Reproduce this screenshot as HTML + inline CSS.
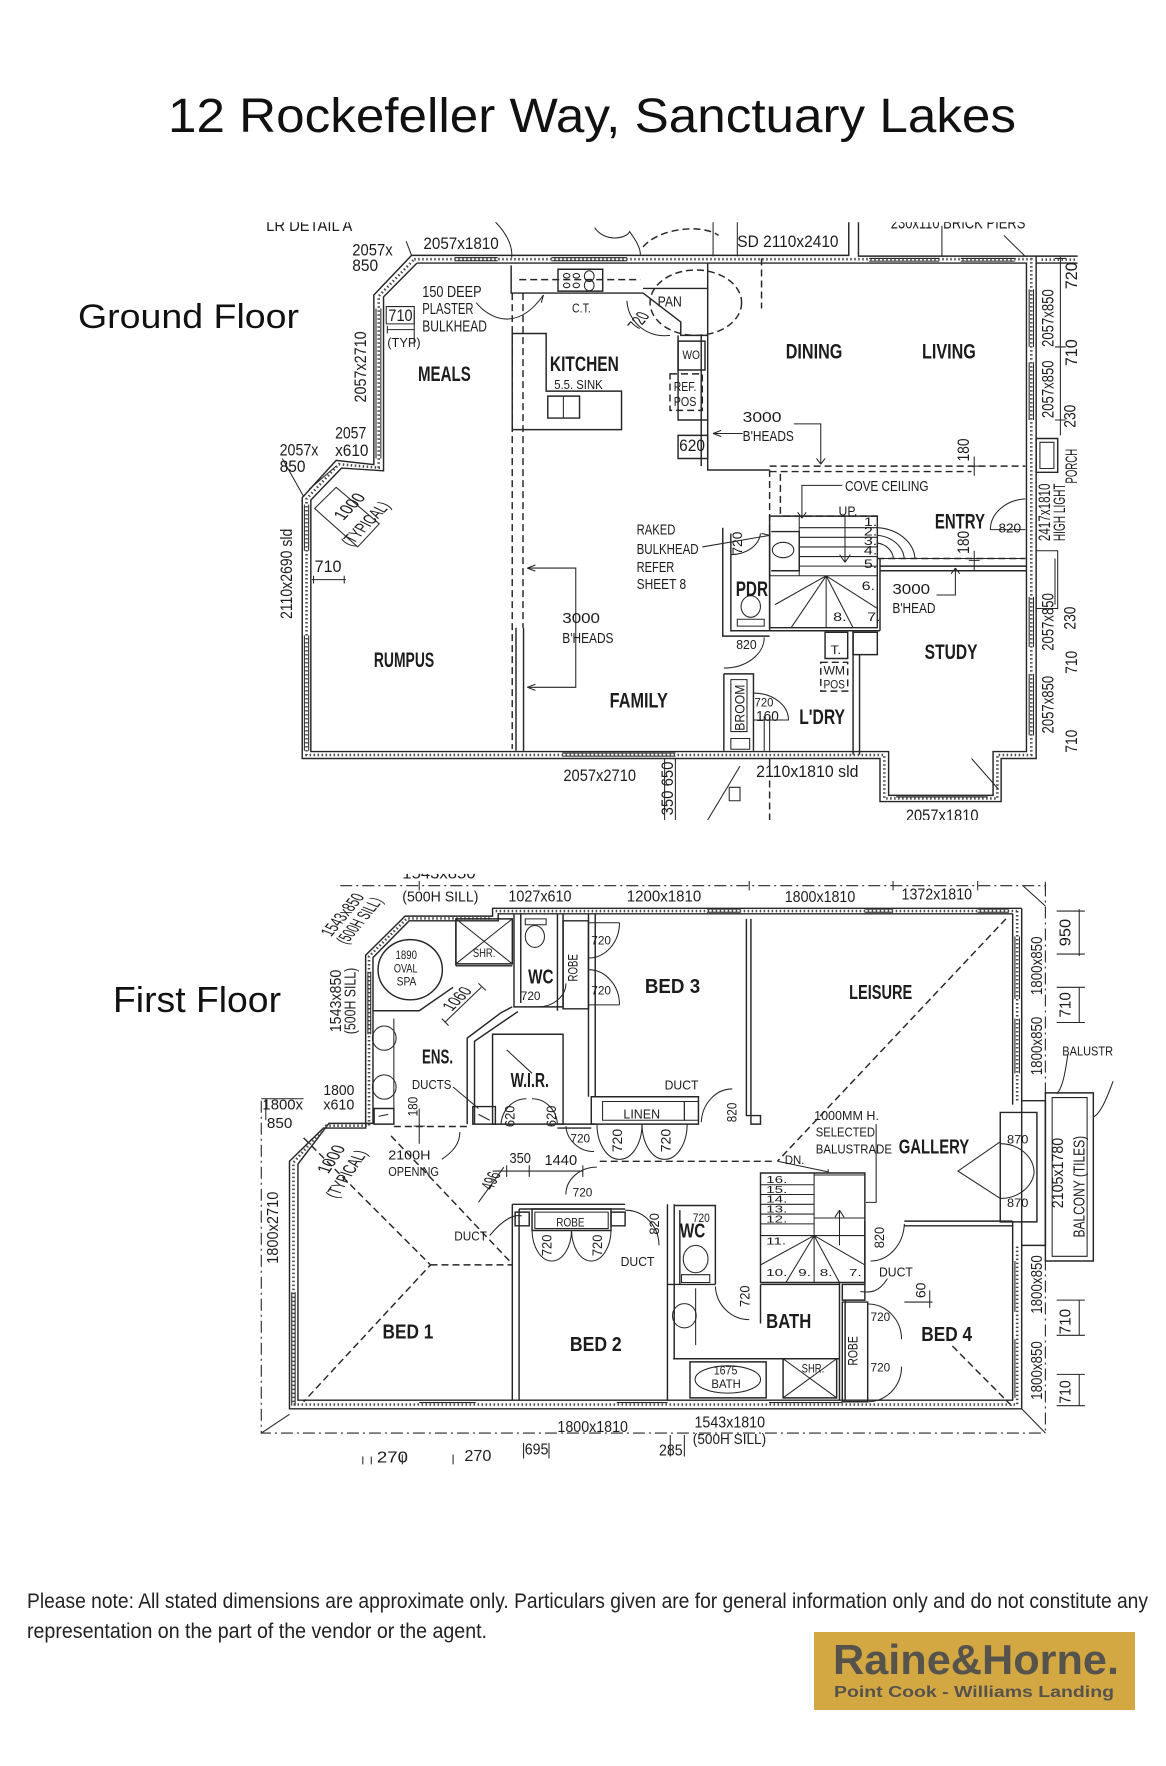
<!DOCTYPE html>
<html><head><meta charset="utf-8"><style>
html,body{margin:0;padding:0;background:#fff;}
svg{display:block;}
.plan path,.plan rect,.plan line,.plan circle,.plan ellipse,.plan polyline{vector-effect:non-scaling-stroke;fill:none;stroke:#262626;stroke-width:1.45;}
.plan .th{stroke-width:1.05;}
.plan .dsh{stroke-dasharray:7 4;}
.plan .dd{stroke-dasharray:12 4 2 4;stroke-width:1.1;}
.plan .hat{stroke-dasharray:1.5 2.5;stroke-width:2.6;stroke:#4a4a4a;}
.plan text{font-family:"Liberation Sans Narrow","Liberation Sans",sans-serif;fill:#1c1c1c;stroke:none;}
.plan .rm text{font-weight:bold;}
.v{text-anchor:middle;dominant-baseline:central;}
</style></head><body>
<svg width="1166" height="1766" viewBox="0 0 1166 1766" xmlns="http://www.w3.org/2000/svg">
<defs>
<clipPath id="cg"><rect x="-250" y="6" width="1787" height="1554"/></clipPath>
<clipPath id="cf"><rect x="-250" y="10" width="1800" height="1550"/></clipPath>
</defs>
<rect width="1166" height="1766" fill="#fff"/>

<!-- headings -->
<text x="168" y="132" font-size="48" textLength="848" lengthAdjust="spacingAndGlyphs" font-family="Liberation Sans, sans-serif" fill="#111">12 Rockefeller Way, Sanctuary Lakes</text>
<text x="78" y="328" font-size="34" textLength="221" lengthAdjust="spacingAndGlyphs" font-family="Liberation Sans, sans-serif" fill="#111">Ground Floor</text>
<text x="113" y="1012" font-size="36" textLength="168" lengthAdjust="spacingAndGlyphs" font-family="Liberation Sans, sans-serif" fill="#111">First Floor</text>

<!-- note -->
<text x="27" y="1608" font-size="21" textLength="1121" lengthAdjust="spacingAndGlyphs" font-family="Liberation Sans, sans-serif" fill="#222">Please note: All stated dimensions are approximate only. Particulars given are for general information only and do not constitute any</text>
<text x="27" y="1638" font-size="21" textLength="460" lengthAdjust="spacingAndGlyphs" font-family="Liberation Sans, sans-serif" fill="#222">representation on the part of the vendor or the agent.</text>

<!-- logo -->
<rect x="814" y="1632" width="321" height="78" fill="#d3a843"/>
<text x="833" y="1674" font-size="42" font-weight="bold" textLength="286" lengthAdjust="spacingAndGlyphs" font-family="Liberation Sans, sans-serif" fill="#56524c">Raine&amp;Horne.</text>
<text x="834" y="1697" font-size="16" font-weight="bold" textLength="280" lengthAdjust="spacingAndGlyphs" font-family="Liberation Sans, sans-serif" fill="#56524c">Point Cook - Williams Landing</text>

<!-- ================= GROUND FLOOR ================= -->
<g class="plan" transform="translate(250,220) scale(0.53846,0.38462)" clip-path="url(#cg)">
<path d="M300,92 H1112 V0 M1130,0 V94 H1540 M1460,94 V1400 H1395 V1512 H1170 V1400 H97 V722 L160,625 L230,636 V195 L300,92"/>
<path d="M310,112 H1442 V1382 H1380 V1496 H1186 V1382 H113 V728 L170,645 L248,652 V200 L310,112 M1460,112 H1540"/>
<path class="hat" d="M305,102 H1451 V1391 H1388 V1504 H1178 V1391 H105 V725 L165,635 L239,644 V198 L305,102 M1470,103 H1540"/>
<path class="th" d="M380,98 H460 M380,106 H460 M560,98 H700 M560,106 H700 M1150,100 H1280 M1150,107 H1280 M1320,100 H1420 M1320,107 H1420"/>
<path class="th" d="M1447,180 V330 M1455,180 V330 M1447,370 V520 M1455,370 V520 M1447,980 V1110 M1455,980 V1110 M1447,1180 V1340 M1455,1180 V1340 M101,740 V860 M109,740 V860 M101,1080 V1380 M109,1080 V1380 M234,230 V620 M243,230 V620 M580,1386 H790 M580,1394 H790 M1200,1500 H1370"/>
<path class="th" d="M290,55 L300,92 M455,4 C480,40 488,70 486,98 M640,20 C660,60 700,48 705,30 C715,50 725,70 725,90 M860,0 V95 M905,0 V95 M1285,15 V95 M1400,40 L1440,95 M1505,96 V560 M1495,100 H1515 M1495,330 H1515 M1495,520 H1515"/>
<path class="dsh" d="M950,100 V230"/>
<circle class="dsh" cx="828" cy="215" r="85"/>
<path class="dsh" d="M730,70 C760,20 840,10 870,40"/>
<path class="dsh" d="M487,190 V1375 M507,190 V1060 M500,155 H725 M965,640 H1440 M965,654 H1340 M965,650 V800 M985,660 V770 M1165,880 H1440 M990,770 H1165"/>
<path d="M494,1060 V1380 M508,1060 V1380"/>
<path d="M485,118 V190 H730 M730,190 L800,265 V300 H850 M730,178 H850 M850,112 V650 H965 M838,300 V640 M487,295 H550 V445 H690 V545 H487 Z M795,300 V520 H850"/>
<rect x="572" y="128" width="83" height="57"/>
<circle class="th" cx="588" cy="145" r="6"/><circle class="th" cx="588" cy="170" r="6"/><circle class="th" cx="606" cy="145" r="6"/><circle class="th" cx="606" cy="170" r="6"/>
<ellipse class="th" cx="630" cy="146" rx="9" ry="14"/><ellipse class="th" cx="630" cy="170" rx="9" ry="14"/>
<rect x="553" y="458" width="59" height="57"/><path class="th" d="M582,458 V515"/>
<path class="th" d="M700,210 A70 95 0 0 0 780,300"/>
<rect x="795" y="315" width="50" height="75"/>
<rect class="dsh" x="780" y="400" width="60" height="95"/>
<rect x="795" y="560" width="55" height="60"/>
<path class="th" d="M420,215 C450,265 500,285 545,195 M860,555 H915 M1010,530 H1060 V635 M1100,690 H1025 V775 M840,850 L965,820 M515,905 H605 V1215 H515 M1275,975 H1310 V905"/>
<path class="th" d="M860,555 l15,-8 M860,555 l15,8 M1060,635 l-8,-15 M1060,635 l8,-15 M1025,775 l-8,-15 M1025,775 l8,-15 M515,905 l15,-8 M515,905 l15,8 M515,1215 l15,-8 M515,1215 l15,8 M1310,905 l-8,15 M1310,905 l8,15 M965,820 l-15,-5 M545,195 l-4,20"/>
<rect x="965" y="770" width="200" height="290"/>
<path class="th" d="M1020,770 V925 M1020,800 H1165 M1020,825 H1165 M1020,850 H1165 M1020,875 H1165 M1020,900 H1165 M965,925 H1165 M1070,925 L975,1000 M1070,925 L1005,1060 M1070,925 L1070,1060 M1070,925 L1120,1060 M1070,925 L1165,1010 M1105,770 V890 M1105,890 l-10,-20 M1105,890 l10,-20"/>
<path class="th" d="M1165,800 A75 85 0 0 1 1235,880 M1165,820 A55 65 0 0 1 1215,880 M1165,840 A35 45 0 0 1 1195,880 M1165,880 H1440"/>
<path d="M878,800 V1082 H965 M893,815 V1068 H965 M965,800 V1068 M968,810 H1020 V912 H968"/>
<path class="th" d="M893,870 A55 60 0 0 0 948,815"/>
<circle class="th" cx="990" cy="858" r="20"/>
<ellipse class="th" cx="930" cy="1005" rx="18" ry="28"/><rect class="th" x="905" y="1038" width="50" height="18"/>
<path class="th" d="M955,1085 A75 80 0 0 1 880,1165"/>
<path d="M880,1180 V1380 M880,1180 H935 V1345 M935,1345 V1380 M965,1068 H1170 M1120,1068 V1390 M1132,1130 V1390 M1170,900 H1442 M1170,912 H1442 M1170,880 V1068"/>
<rect class="th" x="893" y="1195" width="30" height="135"/>
<rect class="th" x="893" y="1348" width="35" height="28"/>
<path class="th" d="M935,1230 A65 70 0 0 1 1000,1300 H935 M955,1290 V1380 M965,1290 V1380"/>
<rect x="1068" y="1072" width="42" height="68"/>
<rect class="dsh" x="1060" y="1150" width="50" height="75"/>
<rect x="1120" y="1072" width="45" height="58"/>
<path class="th" d="M1440,725 A70 80 0 0 0 1375,805 H1440 M1345,615 V665 M1335,640 H1355 M1345,860 V910 M1335,885 H1355"/>
<rect x="1460" y="568" width="40" height="88"/><rect class="th" x="1467" y="578" width="26" height="68"/>
<path class="th" d="M1460,860 H1500 V1010 H1460 M1495,880 V1000"/>
<path class="th" d="M115,935 H178 M118,925 V945 M175,925 V945 M255,285 H305 M255,275 V295 M305,235 V330 M110,700 L160,640 M60,620 L100,720"/>
<rect class="th" x="253" y="225" width="52" height="45"/>
<path class="th" d="M120,750 L160,695 L240,790 L200,850 Z"/>
<path class="th" d="M770,1400 V1560 M790,1400 V1560 M910,1420 L850,1560 M1340,1400 L1390,1480"/>
<rect class="th" x="890" y="1475" width="20" height="35"/>
<path class="dsh" d="M965,1400 V1560"/>
<g font-size="42">
<text x="30" y="28" textLength="160" lengthAdjust="spacingAndGlyphs">LR DETAIL A</text>
<text x="190" y="92" textLength="75" lengthAdjust="spacingAndGlyphs">2057x</text>
<text x="190" y="132" textLength="48" lengthAdjust="spacingAndGlyphs">850</text>
<text x="322" y="75" textLength="140" lengthAdjust="spacingAndGlyphs">2057x1810</text>
<text x="905" y="70" textLength="188" lengthAdjust="spacingAndGlyphs">SD 2110x2410</text>
<text x="1190" y="22" textLength="250" lengthAdjust="spacingAndGlyphs">230x110 BRICK PIERS</text>
<text x="257" y="262" textLength="45" lengthAdjust="spacingAndGlyphs">710</text>
<text x="797" y="600" textLength="48" lengthAdjust="spacingAndGlyphs">620</text>
<text x="582" y="1458" textLength="135" lengthAdjust="spacingAndGlyphs">2057x2710</text>
<text x="940" y="1448" textLength="190" lengthAdjust="spacingAndGlyphs">2110x1810 sld</text>
<text x="1218" y="1562" textLength="135" lengthAdjust="spacingAndGlyphs">2057x1810</text>
<text x="120" y="915" textLength="50" lengthAdjust="spacingAndGlyphs">710</text>
<text x="158" y="568" textLength="58" lengthAdjust="spacingAndGlyphs">2057</text>
<text x="158" y="613" textLength="62" lengthAdjust="spacingAndGlyphs">x610</text>
<text x="55" y="612" textLength="72" lengthAdjust="spacingAndGlyphs">2057x</text>
<text x="55" y="655" textLength="48" lengthAdjust="spacingAndGlyphs">850</text>
</g>
<g font-size="40">
<text x="320" y="200" textLength="110" lengthAdjust="spacingAndGlyphs">150 DEEP</text>
<text x="320" y="245" textLength="95" lengthAdjust="spacingAndGlyphs">PLASTER</text>
<text x="320" y="290" textLength="120" lengthAdjust="spacingAndGlyphs">BULKHEAD</text>
</g>
<g font-size="38">
<text x="915" y="525" textLength="72" lengthAdjust="spacingAndGlyphs">3000</text>
<text x="915" y="575" textLength="95" lengthAdjust="spacingAndGlyphs">B'HEADS</text>
<text x="1105" y="705" textLength="155" lengthAdjust="spacingAndGlyphs">COVE CEILING</text>
<text x="718" y="818" textLength="72" lengthAdjust="spacingAndGlyphs">RAKED</text>
<text x="718" y="868" textLength="115" lengthAdjust="spacingAndGlyphs">BULKHEAD</text>
<text x="718" y="915" textLength="70" lengthAdjust="spacingAndGlyphs">REFER</text>
<text x="718" y="960" textLength="92" lengthAdjust="spacingAndGlyphs">SHEET 8</text>
<text x="1193" y="972" textLength="70" lengthAdjust="spacingAndGlyphs">3000</text>
<text x="1193" y="1022" textLength="80" lengthAdjust="spacingAndGlyphs">B'HEAD</text>
<text x="580" y="1048" textLength="70" lengthAdjust="spacingAndGlyphs">3000</text>
<text x="580" y="1100" textLength="95" lengthAdjust="spacingAndGlyphs">B'HEADS</text>
<text x="757" y="225" textLength="45" lengthAdjust="spacingAndGlyphs">PAN</text>
<text x="940" y="1302" textLength="42" lengthAdjust="spacingAndGlyphs">160</text>
</g>
<g font-size="34">
<text x="255" y="330" textLength="62" lengthAdjust="spacingAndGlyphs">(TYP)</text>
<text x="565" y="440" textLength="90" lengthAdjust="spacingAndGlyphs">5.5. SINK</text>
<text x="598" y="240" textLength="35" lengthAdjust="spacingAndGlyphs">C.T.</text>
<text x="787" y="445" textLength="42" lengthAdjust="spacingAndGlyphs">REF.</text>
<text x="787" y="483" textLength="42" lengthAdjust="spacingAndGlyphs">POS</text>
<text x="1093" y="768" textLength="35" lengthAdjust="spacingAndGlyphs">UP.</text>
<text x="1390" y="812" textLength="42" lengthAdjust="spacingAndGlyphs">820</text>
<text x="903" y="1115" textLength="38" lengthAdjust="spacingAndGlyphs">820</text>
</g>
<g font-size="30">
<text x="803" y="362" textLength="38" lengthAdjust="spacingAndGlyphs">WO.</text>
<text x="937" y="1265" textLength="35" lengthAdjust="spacingAndGlyphs">720</text>
<text x="1078" y="1128" textLength="20" lengthAdjust="spacingAndGlyphs">T.</text>
<text x="1065" y="1182" textLength="40" lengthAdjust="spacingAndGlyphs">WM</text>
<text x="1065" y="1218" textLength="40" lengthAdjust="spacingAndGlyphs">POS</text>
<text x="1140" y="795">1.</text><text x="1140" y="820">2.</text><text x="1140" y="845">3.</text><text x="1140" y="870">4.</text><text x="1140" y="905">5.</text>
<text x="1136" y="962">6.</text><text x="1146" y="1042">7.</text><text x="1083" y="1042">8.</text>
</g>
<g font-size="55" class="rm">
<text x="312" y="418" textLength="98" lengthAdjust="spacingAndGlyphs">MEALS</text>
<text x="557" y="392" textLength="128" lengthAdjust="spacingAndGlyphs">KITCHEN</text>
<text x="995" y="360" textLength="105" lengthAdjust="spacingAndGlyphs">DINING</text>
<text x="1248" y="360" textLength="100" lengthAdjust="spacingAndGlyphs">LIVING</text>
<text x="1272" y="802" textLength="93" lengthAdjust="spacingAndGlyphs">ENTRY</text>
<text x="902" y="978" textLength="60" lengthAdjust="spacingAndGlyphs">PDR</text>
<text x="1253" y="1142" textLength="98" lengthAdjust="spacingAndGlyphs">STUDY</text>
<text x="230" y="1162" textLength="112" lengthAdjust="spacingAndGlyphs">RUMPUS</text>
<text x="668" y="1268" textLength="108" lengthAdjust="spacingAndGlyphs">FAMILY</text>
<text x="1020" y="1310" textLength="85" lengthAdjust="spacingAndGlyphs">L'DRY</text>
</g>
<g font-size="30">
<text class="v" transform="rotate(-90 205 382)" x="205" y="382" textLength="185" lengthAdjust="spacingAndGlyphs">2057x2710</text>
<text class="v" transform="rotate(-90 67 920)" x="67" y="920" textLength="235" lengthAdjust="spacingAndGlyphs">2110x2690 sld</text>
<text class="v" transform="rotate(-90 775 1478)" x="775" y="1478" textLength="140" lengthAdjust="spacingAndGlyphs">350 650</text>
<text class="v" transform="rotate(-90 1325 598)" x="1325" y="598" textLength="60" lengthAdjust="spacingAndGlyphs">180</text>
<text class="v" transform="rotate(-90 1325 838)" x="1325" y="838" textLength="60" lengthAdjust="spacingAndGlyphs">180</text>
<text class="v" transform="rotate(-90 1525 145)" x="1525" y="145" textLength="70" lengthAdjust="spacingAndGlyphs">720</text>
<text class="v" transform="rotate(-90 1482 255)" x="1482" y="255" textLength="150" lengthAdjust="spacingAndGlyphs">2057x850</text>
<text class="v" transform="rotate(-90 1525 345)" x="1525" y="345" textLength="70" lengthAdjust="spacingAndGlyphs">710</text>
<text class="v" transform="rotate(-90 1482 440)" x="1482" y="440" textLength="150" lengthAdjust="spacingAndGlyphs">2057x850</text>
<text class="v" transform="rotate(-90 1522 510)" x="1522" y="510" textLength="60" lengthAdjust="spacingAndGlyphs">230</text>
<text class="v" transform="rotate(-90 1525 640)" x="1525" y="640" textLength="90" lengthAdjust="spacingAndGlyphs">PORCH</text>
<text class="v" transform="rotate(-90 1475 760)" x="1475" y="760" textLength="150" lengthAdjust="spacingAndGlyphs">2417x1810</text>
<text class="v" transform="rotate(-90 1503 760)" x="1503" y="760" textLength="150" lengthAdjust="spacingAndGlyphs">HIGH LIGHT</text>
<text class="v" transform="rotate(-90 1482 1045)" x="1482" y="1045" textLength="150" lengthAdjust="spacingAndGlyphs">2057x850</text>
<text class="v" transform="rotate(-90 1522 1035)" x="1522" y="1035" textLength="60" lengthAdjust="spacingAndGlyphs">230</text>
<text class="v" transform="rotate(-90 1525 1150)" x="1525" y="1150" textLength="60" lengthAdjust="spacingAndGlyphs">710</text>
<text class="v" transform="rotate(-90 1482 1260)" x="1482" y="1260" textLength="150" lengthAdjust="spacingAndGlyphs">2057x850</text>
<text class="v" transform="rotate(-90 1525 1355)" x="1525" y="1355" textLength="60" lengthAdjust="spacingAndGlyphs">710</text>
</g>
<g font-size="26">
<text class="v" transform="rotate(-90 905 840)" x="905" y="840" textLength="60" lengthAdjust="spacingAndGlyphs">720</text>
<text class="v" transform="rotate(-90 910 1268)" x="910" y="1268" textLength="120" lengthAdjust="spacingAndGlyphs">BROOM</text>
</g>
<g font-size="36">
<text class="v" transform="rotate(-55 185 745)" x="185" y="745" textLength="75" lengthAdjust="spacingAndGlyphs">1000</text>
<text class="v" transform="rotate(-55 215 790)" x="215" y="790" textLength="130" lengthAdjust="spacingAndGlyphs">(TYPICAL)</text>
<text class="v" transform="rotate(-60 722 262)" x="722" y="262" textLength="45" lengthAdjust="spacingAndGlyphs">720</text>
</g>
</g>

<!-- ================= FIRST FLOOR ================= -->
<g class="plan" transform="translate(250,870) scale(0.5641,0.3910)" clip-path="url(#cf)">
<path class="dd" d="M160,40 H1410 V1440 M20,590 V1440 H1410"/>
<path class="th" d="M1370,40 L1410,92 M20,1440 L70,1392 M1368,1378 L1410,1440 M300,28 V52 M885,28 V52 M1140,28 V52 M1290,28 V52 M1410,30 V50 M20,585 H95 M28,585 V640"/>
<path class="dsh" d="M1340,125 L935,745 M95,685 L320,1010 L95,1360 M320,1010 H465 M1350,1370 L1240,1210 M620,745 H930 M250,680 L460,1000"/>
<path d="M1368,98 H430 V118 H275 L205,218 V660 H130 L70,745 V1378 H1368 V960 M1368,98 V590"/>
<path d="M1352,112 H440 V130 H282 L218,224 V648 H140 L85,752 V1356 H1352 V900 M1352,112 V600"/>
<path class="hat" d="M1360,105 H435 M425,124 H278 L211,221 V654 H135 L77,748 V1367 H1360 V960 M1360,105 V595"/>
<path class="th" d="M810,100 H870 M810,108 H870 M1090,100 H1140 M1090,108 H1140 M1290,100 H1345 M1290,108 H1345 M1356,170 V330 M1364,170 V330 M1356,380 V520 M1364,380 V520 M1356,1000 V1130 M1356,1200 V1350 M74,1080 V1370 M80,1080 V1370 M209,260 V420 M214,260 V420 M300,1362 H400 M650,1362 H740 M920,1362 H1050"/>
<rect x="1410" y="570" width="85" height="430"/>
<rect class="th" x="1422" y="582" width="62" height="406"/>
<rect x="1368" y="590" width="42" height="370"/>
<rect x="1330" y="620" width="65" height="280"/>
<path class="th" d="M1330,695 L1255,770 L1330,840 M1330,700 A60 75 0 0 1 1390,775 M1330,840 A60 75 0 0 0 1390,775 M1450,470 C1445,520 1440,560 1430,572 M1530,540 C1515,600 1505,625 1495,632 M1470,100 V220 M1470,300 V390 M1470,1100 V1190 M1470,1290 V1370 M1430,105 H1480 M1430,215 H1480 M1430,300 H1480 M1430,390 H1480 M1430,1100 H1480 M1430,1190 H1480 M1430,1290 H1480 M1430,1370 H1480"/>
<ellipse cx="284" cy="255" rx="57" ry="77"/>
<path d="M218,360 H300 L360,300 M365,125 V245 M365,245 H465"/>
<rect x="365" y="125" width="100" height="115"/>
<path class="th" d="M365,125 L465,240 M465,125 L365,240"/>
<path d="M468,112 V350 H555 M480,112 V340 M545,112 V360 M555,112 V355 M465,350 L445,365 L385,430 V650 M475,362 L398,438 V650"/>
<ellipse class="th" cx="505" cy="170" rx="17" ry="28"/><rect class="th" x="488" y="125" width="37" height="15"/>
<rect x="555" y="130" width="45" height="225"/>
<path class="th" d="M655,135 A55 90 0 0 1 600,225 M655,345 A55 90 0 0 0 600,255 M600,135 H655 M600,345 H655 M510,350 A50 60 0 0 0 560,290"/>
<rect x="430" y="420" width="125" height="230"/>
<path class="th" d="M445,650 A45 70 0 0 1 490,585 M545,650 A45 70 0 0 0 500,585 M455,460 L500,520 M345,390 L410,300 M340,380 L352,398 M405,290 L418,308 M255,380 V610 M360,555 L405,610 M340,740 C360,720 372,700 372,670"/>
<ellipse class="th" cx="238" cy="430" rx="21" ry="31"/>
<ellipse class="th" cx="238" cy="555" rx="21" ry="31"/>
<rect x="220" y="610" width="35" height="40"/>
<rect x="395" y="605" width="40" height="45"/>
<path class="th" d="M228,630 L245,625 M405,625 L425,640"/>
<path class="dsh" d="M255,656 H385"/>
<path class="th" d="M300,610 V700 M290,655 H310"/>
<path d="M600,112 V580 M612,112 V580 M880,125 V628 H905 V650 H888 V125 M545,650 H612 M545,660 H605"/>
<rect x="605" y="580" width="190" height="70"/>
<rect class="th" x="625" y="592" width="145" height="48"/>
<rect class="th" x="770" y="592" width="25" height="48"/>
<path class="th" d="M800,645 A55 90 0 0 1 855,560 M560,655 A50 70 0 0 0 610,720 M615,650 A40 90 0 0 0 655,740 M695,650 A40 90 0 0 1 655,740 M695,650 A40 90 0 0 0 735,740 M775,650 A40 90 0 0 1 735,740"/>
<rect x="905" y="775" width="185" height="280"/>
<path class="th" d="M1000,775 V935 M905,805 H1000 M905,830 H1000 M905,855 H1000 M905,880 H1000 M905,905 H1000 M905,935 H1090 M1000,780 H1090 M1000,890 H1090 M1000,935 L950,1055 M1000,935 L1000,1055 M1000,935 L1045,1055 M1000,935 L1090,1010 M1000,935 L905,1010 M1045,960 V870 M1045,870 l-8,18 M1045,870 l8,18 M1025,775 V765 M935,745 L1025,772 M1110,650 V850 H1092"/>
<path d="M465,855 H665 M477,867 H665 M465,855 V1356 M477,867 V1356 M740,855 V1356 M752,855 V1250"/>
<rect x="500" y="867" width="140" height="55"/>
<rect class="th" x="505" y="875" width="130" height="42"/>
<rect x="470" y="875" width="25" height="35"/>
<rect x="640" y="875" width="25" height="35"/>
<path class="th" d="M500,922 A35 80 0 0 0 535,1000 M570,922 A35 80 0 0 1 535,1000 M570,922 A35 80 0 0 0 605,1000 M640,922 A35 80 0 0 1 605,1000 M665,870 A60 90 0 0 1 725,960 M560,830 A55 70 0 0 1 615,760 M425,935 C450,890 470,880 482,885 M430,770 H590 M455,755 V785 M495,755 V785 M590,755 V785 M405,850 L450,760"/>
<path d="M752,858 H825 V1060 M762,870 V1060 M740,1060 H825 M905,1060 H1045 M1045,1055 V1356 M1055,1100 V1356 M750,1250 H1045 M905,1060 V1160"/>
<ellipse class="th" cx="790" cy="995" rx="22" ry="35"/><rect class="th" x="765" y="1035" width="50" height="20"/>
<path class="th" d="M825,1065 A60 90 0 0 0 885,1150 M790,1070 V1215"/>
<ellipse class="th" cx="770" cy="1140" rx="21" ry="31"/>
<rect x="780" y="1258" width="135" height="92"/>
<ellipse class="th" cx="847" cy="1303" rx="58" ry="35"/>
<rect x="945" y="1250" width="95" height="100"/>
<path class="th" d="M945,1250 L1040,1350 M1040,1250 L945,1350"/>
<rect x="1050" y="1105" width="45" height="255"/>
<rect x="1050" y="1060" width="40" height="40"/>
<path d="M1160,898 H1352 M1160,910 H1352 M1090,898 V1060"/>
<path class="th" d="M1095,1110 A60 90 0 0 1 1155,1200 M1095,1360 A60 90 0 0 0 1155,1270 M1100,1000 A60 100 0 0 0 1160,905 M1130,1045 C1115,1080 1100,1082 1082,1078 M1160,1105 H1210 M1205,1075 V1120"/>
<path class="th" d="M485,1465 V1505 M530,1465 V1505 M745,1445 V1500 M770,1445 V1500 M200,1500 V1520 M215,1500 V1520 M270,1495 V1520 M360,1495 V1520"/>
<g font-size="40">
<text x="270" y="22" textLength="130" lengthAdjust="spacingAndGlyphs">1543x850</text>
<text x="458" y="80" textLength="112" lengthAdjust="spacingAndGlyphs">1027x610</text>
<text x="668" y="80" textLength="132" lengthAdjust="spacingAndGlyphs">1200x1810</text>
<text x="948" y="82" textLength="125" lengthAdjust="spacingAndGlyphs">1800x1810</text>
<text x="1155" y="75" textLength="125" lengthAdjust="spacingAndGlyphs">1372x1810</text>
<text x="545" y="1438" textLength="125" lengthAdjust="spacingAndGlyphs">1800x1810</text>
<text x="788" y="1426" textLength="125" lengthAdjust="spacingAndGlyphs">1543x1810</text>
<text x="725" y="1498" textLength="42" lengthAdjust="spacingAndGlyphs">285</text>
<text x="487" y="1495" textLength="42" lengthAdjust="spacingAndGlyphs">695</text>
<text x="225" y="1515" textLength="55" lengthAdjust="spacingAndGlyphs">270</text>
<text x="380" y="1512" textLength="48" lengthAdjust="spacingAndGlyphs">270</text>
</g>
<g font-size="38">
<text x="270" y="80" textLength="135" lengthAdjust="spacingAndGlyphs">(500H SILL)</text>
<text x="785" y="1468" textLength="130" lengthAdjust="spacingAndGlyphs">(500H SILL)</text>
<text x="130" y="575" textLength="55" lengthAdjust="spacingAndGlyphs">1800</text>
<text x="130" y="612" textLength="55" lengthAdjust="spacingAndGlyphs">x610</text>
<text x="22" y="612" textLength="72" lengthAdjust="spacingAndGlyphs">1800x</text>
<text x="30" y="660" textLength="45" lengthAdjust="spacingAndGlyphs">850</text>
<text x="460" y="750" textLength="38" lengthAdjust="spacingAndGlyphs">350</text>
<text x="522" y="755" textLength="58" lengthAdjust="spacingAndGlyphs">1440</text>
</g>
<g font-size="34">
<text x="287" y="560" textLength="70" lengthAdjust="spacingAndGlyphs">DUCTS</text>
<text x="662" y="635" textLength="65" lengthAdjust="spacingAndGlyphs">LINEN</text>
<text x="735" y="562" textLength="60" lengthAdjust="spacingAndGlyphs">DUCT</text>
<text x="245" y="740" textLength="75" lengthAdjust="spacingAndGlyphs">2100H</text>
<text x="245" y="782" textLength="90" lengthAdjust="spacingAndGlyphs">OPENING</text>
<text x="1000" y="640" textLength="115" lengthAdjust="spacingAndGlyphs">1000MM H.</text>
<text x="1003" y="682" textLength="105" lengthAdjust="spacingAndGlyphs">SELECTED</text>
<text x="1003" y="725" textLength="135" lengthAdjust="spacingAndGlyphs">BALUSTRADE</text>
<text x="362" y="948" textLength="58" lengthAdjust="spacingAndGlyphs">DUCT</text>
<text x="657" y="1013" textLength="60" lengthAdjust="spacingAndGlyphs">DUCT</text>
<text x="1115" y="1040" textLength="60" lengthAdjust="spacingAndGlyphs">DUCT</text>
<text x="1440" y="475" textLength="90" lengthAdjust="spacingAndGlyphs">BALUSTR</text>
</g>
<g font-size="31">
<text x="258" y="228" textLength="38" lengthAdjust="spacingAndGlyphs">1890</text>
<text x="255" y="262" textLength="42" lengthAdjust="spacingAndGlyphs">OVAL</text>
<text x="260" y="296" textLength="35" lengthAdjust="spacingAndGlyphs">SPA</text>
<text x="395" y="222" textLength="40" lengthAdjust="spacingAndGlyphs">SHR.</text>
<text x="480" y="332" textLength="35" lengthAdjust="spacingAndGlyphs">720</text>
<text x="605" y="190" textLength="35" lengthAdjust="spacingAndGlyphs">720</text>
<text x="605" y="318" textLength="35" lengthAdjust="spacingAndGlyphs">720</text>
<text x="568" y="697" textLength="35" lengthAdjust="spacingAndGlyphs">720</text>
<text x="572" y="835" textLength="35" lengthAdjust="spacingAndGlyphs">720</text>
<text x="948" y="752" textLength="35" lengthAdjust="spacingAndGlyphs">DN.</text>
<text x="1342" y="700" textLength="38" lengthAdjust="spacingAndGlyphs">870</text>
<text x="1342" y="862" textLength="38" lengthAdjust="spacingAndGlyphs">870</text>
<text x="543" y="912" textLength="50" lengthAdjust="spacingAndGlyphs">ROBE</text>
<text x="785" y="900" textLength="30" lengthAdjust="spacingAndGlyphs">720</text>
<text x="1100" y="1153" textLength="35" lengthAdjust="spacingAndGlyphs">720</text>
<text x="1100" y="1283" textLength="35" lengthAdjust="spacingAndGlyphs">720</text>
<text x="822" y="1290" textLength="42" lengthAdjust="spacingAndGlyphs">1675</text>
<text x="818" y="1325" textLength="52" lengthAdjust="spacingAndGlyphs">BATH</text>
<text x="978" y="1285" textLength="40" lengthAdjust="spacingAndGlyphs">SHR.</text>
</g>
<g font-size="27">
<text x="915" y="800">16.</text><text x="915" y="826">15.</text><text x="915" y="851">14.</text><text x="915" y="876">13.</text><text x="915" y="901">12.</text><text x="915" y="958">11.</text>
<text x="915" y="1038">10.</text><text x="972" y="1038">9.</text><text x="1010" y="1038">8.</text><text x="1062" y="1038">7.</text>
</g>
<g font-size="53" class="rm">
<text x="493" y="290" textLength="45" lengthAdjust="spacingAndGlyphs">WC</text>
<text x="700" y="315" textLength="98" lengthAdjust="spacingAndGlyphs">BED 3</text>
<text x="1062" y="330" textLength="112" lengthAdjust="spacingAndGlyphs">LEISURE</text>
<text x="305" y="495" textLength="55" lengthAdjust="spacingAndGlyphs">ENS.</text>
<text x="462" y="555" textLength="68" lengthAdjust="spacingAndGlyphs">W.I.R.</text>
<text x="1150" y="725" textLength="125" lengthAdjust="spacingAndGlyphs">GALLERY</text>
<text x="762" y="940" textLength="45" lengthAdjust="spacingAndGlyphs">WC</text>
<text x="915" y="1172" textLength="80" lengthAdjust="spacingAndGlyphs">BATH</text>
<text x="1190" y="1205" textLength="90" lengthAdjust="spacingAndGlyphs">BED 4</text>
<text x="235" y="1198" textLength="90" lengthAdjust="spacingAndGlyphs">BED 1</text>
<text x="567" y="1230" textLength="92" lengthAdjust="spacingAndGlyphs">BED 2</text>
</g>
<g font-size="28">
<text class="v" transform="rotate(-90 152 335)" x="152" y="335" textLength="160" lengthAdjust="spacingAndGlyphs">1543x850</text>
<text class="v" transform="rotate(-90 178 335)" x="178" y="335" textLength="170" lengthAdjust="spacingAndGlyphs">(500H SILL)</text>
<text class="v" transform="rotate(-90 40 915)" x="40" y="915" textLength="185" lengthAdjust="spacingAndGlyphs">1800x2710</text>
<text class="v" transform="rotate(-90 1432 775)" x="1432" y="775" textLength="180" lengthAdjust="spacingAndGlyphs">2105x1780</text>
<text class="v" transform="rotate(-90 1470 810)" x="1470" y="810" textLength="260" lengthAdjust="spacingAndGlyphs">BALCONY (TILES)</text>
<text class="v" transform="rotate(-90 1445 160)" x="1445" y="160" textLength="70" lengthAdjust="spacingAndGlyphs">950</text>
<text class="v" transform="rotate(-90 1395 245)" x="1395" y="245" textLength="150" lengthAdjust="spacingAndGlyphs">1800x850</text>
<text class="v" transform="rotate(-90 1445 345)" x="1445" y="345" textLength="65" lengthAdjust="spacingAndGlyphs">710</text>
<text class="v" transform="rotate(-90 1395 450)" x="1395" y="450" textLength="150" lengthAdjust="spacingAndGlyphs">1800x850</text>
<text class="v" transform="rotate(-90 1395 1060)" x="1395" y="1060" textLength="150" lengthAdjust="spacingAndGlyphs">1800x850</text>
<text class="v" transform="rotate(-90 1445 1155)" x="1445" y="1155" textLength="65" lengthAdjust="spacingAndGlyphs">710</text>
<text class="v" transform="rotate(-90 1395 1280)" x="1395" y="1280" textLength="150" lengthAdjust="spacingAndGlyphs">1800x850</text>
<text class="v" transform="rotate(-90 1445 1335)" x="1445" y="1335" textLength="60" lengthAdjust="spacingAndGlyphs">710</text>
</g>
<g font-size="24">
<text class="v" transform="rotate(-90 573 250)" x="573" y="250" textLength="70" lengthAdjust="spacingAndGlyphs">ROBE</text>
<text class="v" transform="rotate(-90 290 605)" x="290" y="605" textLength="50" lengthAdjust="spacingAndGlyphs">180</text>
<text class="v" transform="rotate(-90 462 630)" x="462" y="630" textLength="55" lengthAdjust="spacingAndGlyphs">620</text>
<text class="v" transform="rotate(-90 535 630)" x="535" y="630" textLength="55" lengthAdjust="spacingAndGlyphs">620</text>
<text class="v" transform="rotate(-90 652 692)" x="652" y="692" textLength="60" lengthAdjust="spacingAndGlyphs">720</text>
<text class="v" transform="rotate(-90 738 692)" x="738" y="692" textLength="60" lengthAdjust="spacingAndGlyphs">720</text>
<text class="v" transform="rotate(-90 855 620)" x="855" y="620" textLength="50" lengthAdjust="spacingAndGlyphs">820</text>
<text class="v" transform="rotate(-90 527 960)" x="527" y="960" textLength="55" lengthAdjust="spacingAndGlyphs">720</text>
<text class="v" transform="rotate(-90 617 960)" x="617" y="960" textLength="55" lengthAdjust="spacingAndGlyphs">720</text>
<text class="v" transform="rotate(-90 718 905)" x="718" y="905" textLength="55" lengthAdjust="spacingAndGlyphs">820</text>
<text class="v" transform="rotate(-90 1117 940)" x="1117" y="940" textLength="55" lengthAdjust="spacingAndGlyphs">820</text>
<text class="v" transform="rotate(-90 1190 1075)" x="1190" y="1075" textLength="40" lengthAdjust="spacingAndGlyphs">60</text>
<text class="v" transform="rotate(-90 878 1090)" x="878" y="1090" textLength="55" lengthAdjust="spacingAndGlyphs">720</text>
<text class="v" transform="rotate(-90 1070 1230)" x="1070" y="1230" textLength="75" lengthAdjust="spacingAndGlyphs">ROBE</text>
</g>
<g font-size="34">
<text class="v" transform="rotate(-55 368 330)" x="368" y="330" textLength="65" lengthAdjust="spacingAndGlyphs">1060</text>
<text class="v" transform="rotate(-70 428 795)" x="428" y="795" textLength="45" lengthAdjust="spacingAndGlyphs">496</text>
<text class="v" transform="rotate(-65 145 740)" x="145" y="740" textLength="75" lengthAdjust="spacingAndGlyphs">1000</text>
<text class="v" transform="rotate(-65 172 778)" x="172" y="778" textLength="130" lengthAdjust="spacingAndGlyphs">(TYPICAL)</text>
<text class="v" transform="rotate(-60 165 115)" x="165" y="115" textLength="120" lengthAdjust="spacingAndGlyphs">1543x850</text>
<text class="v" transform="rotate(-60 195 130)" x="195" y="130" textLength="130" lengthAdjust="spacingAndGlyphs">(500H SILL)</text>
</g>
</g>
</svg>
</body></html>
